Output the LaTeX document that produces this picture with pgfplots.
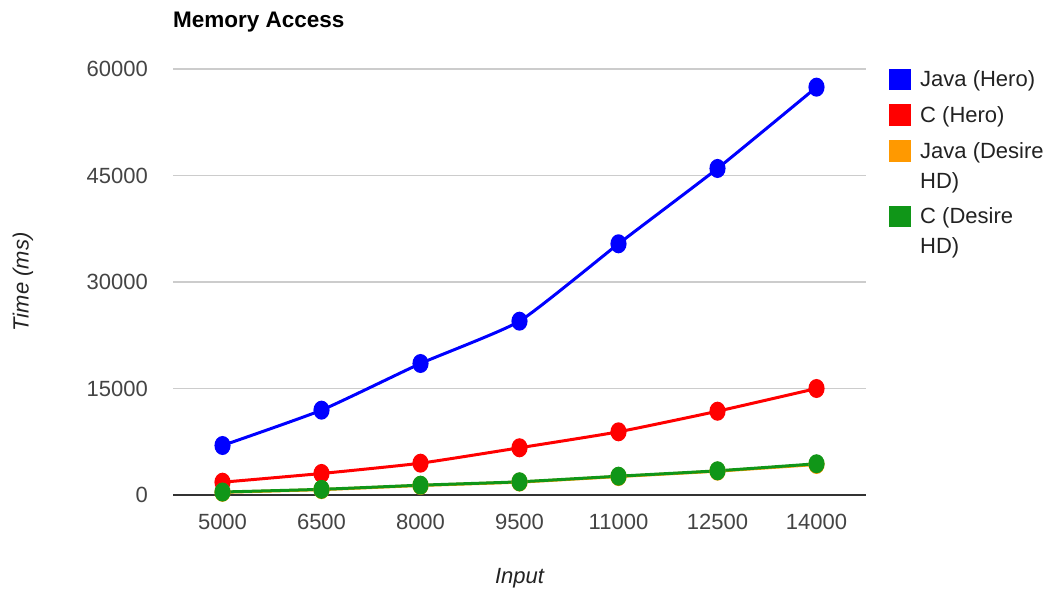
\documentclass[border=0pt]{standalone}
\usepackage{fontspec}
\setmainfont{Liberation Sans}
\usepackage{pgfplots}
\pgfplotsset{compat=1.18}
\definecolor{cBlue}{HTML}{0000FF}
\definecolor{cRed}{HTML}{FF0000}
\definecolor{cOrange}{HTML}{FF9900}
\definecolor{cGreen}{HTML}{109618}
\definecolor{tickgray}{HTML}{444444}
\definecolor{txt}{HTML}{222222}
\definecolor{gridgray}{HTML}{CCCCCC}
\definecolor{axisdark}{HTML}{333333}
\begin{document}
\begin{tikzpicture}
\path[use as bounding box] (0pt,0pt) rectangle (1056pt,593pt);
\begin{axis}[
  at={(173pt,98pt)}, anchor=south west,
  scale only axis, width=693pt, height=426pt,
  xmin=-0.5, xmax=6.5, ymin=0, ymax=60000,
  xtick={0,1,2,3,4,5,6},
  xticklabels={5000,6500,8000,9500,11000,12500,14000},
  ytick={0,15000,30000,45000,60000},
  scaled y ticks=false,
  /pgf/number format/.cd, set thousands separator={}, assume math mode=true, /pgfplots/.cd,
  major tick length=0pt,
  ymajorgrids, grid style={gridgray, line width=1.5pt},
  axis line style={draw=none},
  ticklabel style={font=\fontsize{22}{26}\selectfont, text=tickgray},
  yticklabel style={anchor=east, inner sep=0pt, xshift=-25pt},
  xticklabel style={anchor=north, inner sep=0pt, yshift=-19pt},
  xlabel={Input}, ylabel={Time (ms)},
  label style={font=\fontsize{22}{26}\selectfont\itshape, text=txt},
  xlabel style={at={(rel axis cs:0.5,0)}, anchor=center, yshift=-83pt},
  ylabel style={at={(rel axis cs:0,0.5)}, anchor=center, yshift=150pt},
  title={Memory Access},
  title style={at={(rel axis cs:0,1)}, anchor=base west, inner sep=0pt, yshift=35pt, font=\fontsize{22.5}{26}\selectfont\bfseries, text=black},
  every axis plot/.append style={line width=3pt, smooth, tension=0.3, mark=*, mark size=8pt, mark options={xscale=0.82, solid}},
  clip=false,
]
\draw[axisdark, line width=2pt] (rel axis cs:0,0) -- (rel axis cs:1,0);
\addplot[color=cBlue] coordinates {(0,6970) (1,11950) (2,18520) (3,24480) (4,35380) (5,45990) (6,57440)};
\addplot[color=cRed] coordinates {(0,1800) (1,3030) (2,4480) (3,6650) (4,8900) (5,11800) (6,15000)};
\addplot[color=cOrange] coordinates {(0,380) (1,760) (2,1340) (3,1820) (4,2600) (5,3360) (6,4300)};
\addplot[color=cGreen] coordinates {(0,420) (1,800) (2,1380) (3,1860) (4,2650) (5,3410) (6,4400)};
\end{axis}
% legend (pixel y from top converted: y = 593 - py)
\begin{scope}[every node/.style={anchor=base west, inner sep=0pt, font=\fontsize{22}{26}\selectfont, text=txt}]
\fill[cBlue]   (888.5pt,{(593-69)*1pt})    rectangle (910.5pt,{(593-90.5)*1pt});
\node at (920pt,{(593-87)*1pt}) {Java (Hero)};
\fill[cRed]    (888.5pt,{(593-104.5)*1pt}) rectangle (910.5pt,{(593-126)*1pt});
\node at (920pt,{(593-122.7)*1pt}) {C (Hero)};
\fill[cOrange] (888.5pt,{(593-140.3)*1pt}) rectangle (910.5pt,{(593-161.8)*1pt});
\node at (920pt,{(593-158.3)*1pt}) {Java (Desire};
\node at (920pt,{(593-188.3)*1pt}) {HD)};
\fill[cGreen]  (888.5pt,{(593-206)*1pt})   rectangle (910.5pt,{(593-227.5)*1pt});
\node at (920pt,{(593-224)*1pt}) {C (Desire};
\node at (920pt,{(593-253.3)*1pt}) {HD)};
\end{scope}
\end{tikzpicture}
\end{document}
